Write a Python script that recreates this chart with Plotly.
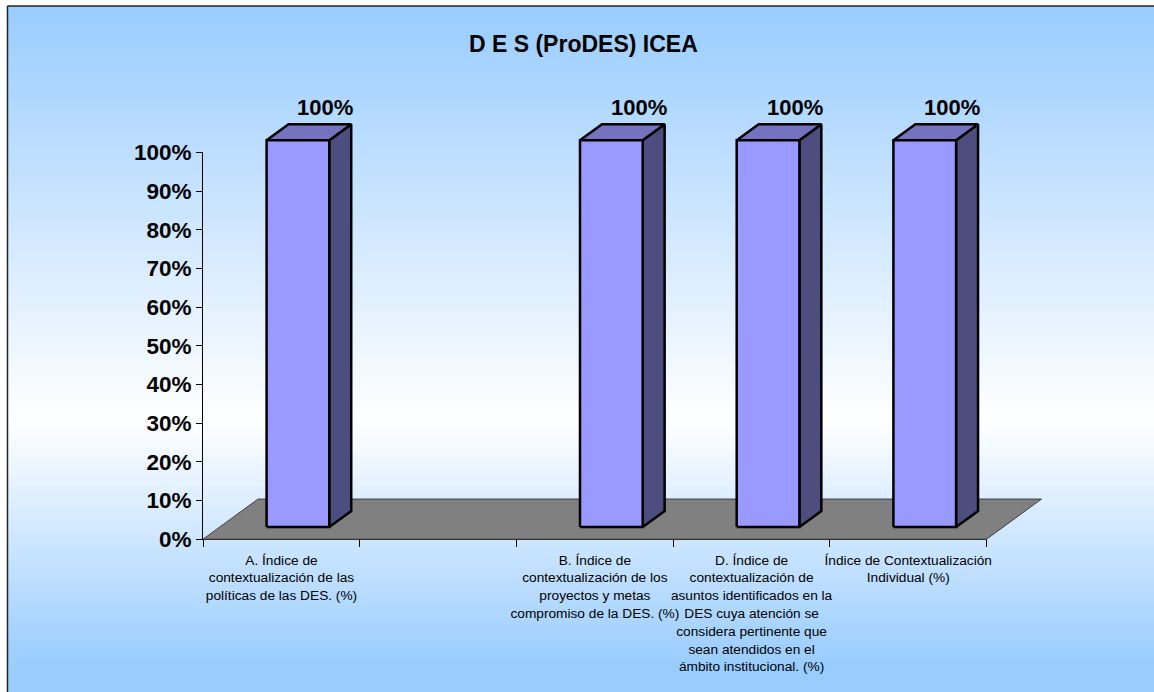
import plotly.graph_objects as go

# ---------------- data ----------------
categories = [
    "A. Índice de<br>contextualización de las<br>políticas de las DES. (%)",
    " ",
    "B. Índice de<br>contextualización de los<br>proyectos y metas<br>compromiso de la DES. (%)",
    "D. Índice de<br>contextualización de<br>asuntos identificados en la<br>DES cuya atención se<br>considera pertinente que<br>sean atendidos en el<br>ámbito institucional. (%)",
    "Índice de Contextualización<br>Individual (%)",
]
values = [1.0, None, 1.0, 1.0, 1.0]
y_tick_vals = [0, 0.1, 0.2, 0.3, 0.4, 0.5, 0.6, 0.7, 0.8, 0.9, 1.0]
title_text = "D E S (ProDES) ICEA"

# ---------------- layout constants ----------------
TOP_OFF = 14              # figure placed this many px above page top
W, H = 1166, 722 + TOP_OFF
# capture compensation (target picture px -> figure px)
OX, SX = -1.5, 0.9976
OY, SY = 12.5, 0.964
def dx(px):
    return (px - OX) / SX
def dy(py):
    return (py - OY) / SY + TOP_OFF

# target positions (picture px)
PL, PR, PT, PB = dx(202), dx(987), dy(153), dy(539)
FRAME_L = dx(6)
FRAME_T = dy(7)
N = len(categories)
XR = (-0.5, N - 0.5)
YR = (0.0, 1.0)
ppx = (PR - PL) / (XR[1] - XR[0])
ppy = (PB - PT) / (YR[1] - YR[0])

DX = 55 / 157.0      # floor depth (x units)
DY = 40 / 386.0      # floor depth (value units)
F1, F2 = 0.3, 0.7    # bar position in depth
BW = 0.4             # bar width (category units)
LBL_DX, LBL_DY = 44 / 157.0, 45 / 386.0

FONT = "Arial, Liberation Sans, sans-serif"
FRONT, TOP, SIDE = "#9999FF", "#7373BF", "#4D4D80"
EDGE = "black"
EW = 2.5

fig = go.Figure()

# ---------------- background gradient ----------------
def hex2rgb(h):
    h = h.lstrip("#")
    return tuple(int(h[i:i + 2], 16) for i in (0, 2, 4))

stops = [(FRAME_T, "#99CCFF"), (dy(420), "#FFFFFF"), (dy(665), "#99CCFF"), (H + 50, "#99CCFF")]

def color_at(py):
    for (a, ca), (b, cb) in zip(stops[:-1], stops[1:]):
        if a <= py <= b:
            t = (py - a) / (b - a) if b > a else 0
            r0, g0, b0 = hex2rgb(ca)
            r1, g1, b1 = hex2rgb(cb)
            return "rgb(%d,%d,%d)" % (round(r0 + (r1 - r0) * t), round(g0 + (g1 - g0) * t), round(b0 + (b1 - b0) * t))
    return stops[-1][1]

shapes = []
band = 4
py = FRAME_T
while py < H:
    y_top, y_bot = py, min(py + band + 1, H)
    shapes.append(dict(type="rect", xref="paper", yref="paper", layer="below",
                       x0=FRAME_L / W, x1=1.0, y0=1 - y_bot / H, y1=1 - y_top / H,
                       fillcolor=color_at(py + band / 2), line=dict(width=0)))
    py += band
shapes.append(dict(type="line", xref="paper", yref="paper", layer="above",
                   x0=FRAME_L / W, x1=1.0, y0=1 - FRAME_T / H, y1=1 - FRAME_T / H,
                   line=dict(color="#222222", width=1.5)))
shapes.append(dict(type="line", xref="paper", yref="paper", layer="above",
                   x0=FRAME_L / W, x1=FRAME_L / W, y0=0, y1=1 - FRAME_T / H,
                   line=dict(color="#222222", width=1.5)))

# ---------------- invisible trace for category axis ----------------
fig.add_trace(go.Scatter(x=categories, y=[v if v is not None else 0 for v in values],
                         mode="markers", marker=dict(opacity=0), hoverinfo="skip",
                         showlegend=False, xaxis="x", yaxis="y"))

# ---------------- floor ----------------
fx = [XR[0], XR[1], XR[1] + DX, XR[0] + DX, XR[0]]
fy = [YR[0], YR[0], YR[0] + DY, YR[0] + DY, YR[0]]
fig.add_trace(go.Scatter(x=fx, y=fy, fill="toself", fillcolor="#808080", mode="lines",
                         line=dict(color="#404040", width=1), hoverinfo="skip",
                         showlegend=False, xaxis="x2", yaxis="y2"))

# ---------------- 3D bars ----------------
bx, by = (F2 - F1) * DX, (F2 - F1) * DY
annotations = []
for i, v in enumerate(values):
    if v is None:
        continue
    x0 = i - BW / 2 + F1 * DX
    x1 = i + BW / 2 + F1 * DX
    yb = YR[0] + F1 * DY
    yt = v + F1 * DY
    fig.add_trace(go.Scatter(x=[x1, x1 + bx, x1 + bx, x1, x1], y=[yb, yb + by, yt + by, yt, yb],
                             fill="toself", fillcolor=SIDE, mode="lines",
                             line=dict(color=EDGE, width=EW), hoverinfo="skip",
                             showlegend=False, xaxis="x2", yaxis="y2"))
    fig.add_trace(go.Scatter(x=[x0, x1, x1 + bx, x0 + bx, x0], y=[yt, yt, yt + by, yt + by, yt],
                             fill="toself", fillcolor=TOP, mode="lines",
                             line=dict(color=EDGE, width=EW), hoverinfo="skip",
                             showlegend=False, xaxis="x2", yaxis="y2"))
    fig.add_trace(go.Scatter(x=[x0, x1, x1, x0, x0], y=[yb, yb, yt, yt, yb],
                             fill="toself", fillcolor=FRONT, mode="lines",
                             line=dict(color=EDGE, width=EW), hoverinfo="skip",
                             showlegend=False, xaxis="x2", yaxis="y2"))
    annotations.append(dict(x=i + LBL_DX, y=v + LBL_DY, xref="x2", yref="y2",
                            text=f"{v:.0%}", showarrow=False,
                            font=dict(family=FONT, size=22, color="black", weight="bold"),
                            xanchor="center", yanchor="middle"))

annotations.append(dict(x=dx(583) / W, y=1 - dy(45) / H, xref="paper", yref="paper",
                        text=f"<b>{title_text}</b>", showarrow=False,
                        font=dict(family=FONT, size=23, color="black"),
                        xanchor="center", yanchor="middle"))

fig.update_layout(
    width=W, height=H, autosize=False,
    margin=dict(l=0, r=0, t=0, b=0),
    paper_bgcolor="white", plot_bgcolor="rgba(0,0,0,0)",
    showlegend=False,
    shapes=shapes, annotations=annotations,
    xaxis=dict(type="category", categoryorder="array", categoryarray=categories,
               domain=[PL / W, PR / W], range=list(XR), anchor="y",
               tickson="boundaries", ticks="outside", ticklen=7, tickcolor="black", tickwidth=1,
               showline=True, linecolor="black", linewidth=1, showgrid=False, zeroline=False,
               tickangle=0, ticklabelstandoff=8,
               tickfont=dict(family=FONT, size=13.7, color="black"),
               fixedrange=True),
    yaxis=dict(domain=[1 - PB / H, 1 - PT / H], range=list(YR), anchor="x",
               tickvals=y_tick_vals, tickformat=".0%", ticks="outside", ticklen=6,
               tickcolor="black", showline=True, linecolor="black", linewidth=1,
               showgrid=False, zeroline=False,
               tickfont=dict(family=FONT, size=22.5, color="black", weight="bold"),
               fixedrange=True),
    xaxis2=dict(domain=[0, 1], range=[XR[0] - PL / ppx, XR[0] + (W - PL) / ppx],
                anchor="y2", visible=False, fixedrange=True),
    yaxis2=dict(domain=[0, 1], range=[YR[0] - (H - PB) / ppy, YR[0] + PB / ppy],
                anchor="x2", visible=False, fixedrange=True),
)

post = (
    "document.documentElement.style.margin='0';"
    "document.documentElement.style.padding='0';"
    "document.documentElement.style.overflow='hidden';"
    "document.body.style.margin='0';"
    "document.body.style.padding='0';"
    "document.body.style.overflow='hidden';"
    "var d=document.getElementById('{plot_id}');"
    "d.style.position='fixed';d.style.left='0px';d.style.top='-" + str(TOP_OFF) + "px';"
)
fig.write_html("out.html", post_script=post, config={"displayModeBar": False})
